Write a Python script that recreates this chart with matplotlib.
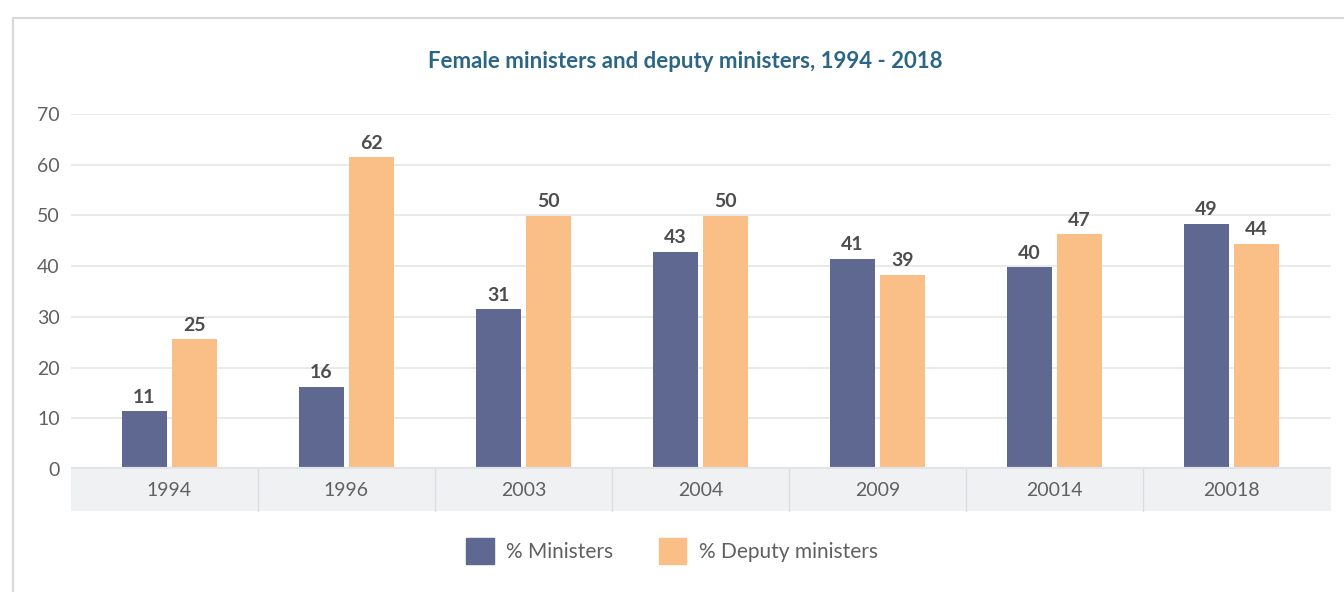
import numpy as np
import matplotlib.pyplot as plt
from matplotlib.patches import Rectangle, Patch
from matplotlib.lines import Line2D

plt.rcParams['font.family'] = ['Lato', 'DejaVu Sans']

years = ['1994', '1996', '2003', '2004', '2009', '20014', '20018']
ministers = [11.4, 16.2, 31.5, 42.8, 41.4, 39.8, 48.3]
deputy = [25.6, 61.5, 49.9, 49.9, 38.3, 46.3, 44.4]
ministers_labels = ['11', '16', '31', '43', '41', '40', '49']
deputy_labels = ['25', '62', '50', '50', '39', '47', '44']

c_min = '#5f6891'
c_dep = '#f9bf87'
txt = '#606060'

fig = plt.figure(figsize=(13.44, 5.92), dpi=100)
ax = fig.add_axes([71 / 1344, 1 - 469 / 592, 1260 / 1344, 355 / 592])

x = np.arange(len(years))
w = 0.254
off = 0.141
b1 = ax.bar(x - off, ministers, w, color=c_min, zorder=3)
b2 = ax.bar(x + off, deputy, w, color=c_dep, zorder=3)

for bars, labels in [(b1, ministers_labels), (b2, deputy_labels)]:
    for b, lab in zip(bars, labels):
        ax.text(b.get_x() + b.get_width() / 2, b.get_height() + 1.1, lab,
                ha='center', va='bottom', fontsize=14, fontweight='bold', color='#4d4d4d')

ax.set_ylim(0, 70)
ax.set_xlim(-0.556, 6.562)
ax.set_yticks(range(0, 71, 10))
ax.tick_params(axis='y', length=0, labelsize=14, labelcolor=txt, pad=8)
ax.set_xticks([])
ax.grid(axis='y', color='#e6e6e6', linewidth=1.2, zorder=0)
for s in ax.spines.values():
    s.set_visible(False)

# category band under the axis
band_h = 42 / 355
ax.add_patch(Rectangle((0, -band_h), 1, band_h, transform=ax.transAxes,
                       facecolor='#f0f1f3', edgecolor='none', clip_on=False, zorder=1))
trans = ax.get_xaxis_transform()
for i in range(len(years) - 1):
    ax.plot([i + 0.5, i + 0.5], [-band_h, 0], transform=trans, color='#dcdde1',
            linewidth=1, clip_on=False, zorder=2)
for i, yr in enumerate(years):
    ax.text(i, -band_h / 2, yr, transform=trans, ha='center', va='center',
            fontsize=14, color=txt)
ax.axhline(0, color='#e2e3e6', linewidth=3, zorder=4)

fig.text(685 / 1344, 1 - 61 / 592, 'Female ministers and deputy ministers, 1994 - 2018',
         ha='center', va='center', fontsize=16, fontweight='bold', color='#2c6687')

handles = [Patch(color=c_min), Patch(color=c_dep)]
fig.legend(handles, ['% Ministers', '% Deputy ministers'], loc='center',
           bbox_to_anchor=(672 / 1344, 1 - 551 / 592), ncol=2, frameon=False,
           fontsize=15, labelcolor=txt, handlelength=1.3, handleheight=1.5,
           columnspacing=2.2, handletextpad=0.6)

# outer frame
fig.add_artist(Line2D([13 / 1344, 1], [1 - 18 / 592, 1 - 18 / 592], color='#d9d9d9', linewidth=1.5))
fig.add_artist(Line2D([13 / 1344, 13 / 1344], [0, 1 - 18 / 592], color='#d9d9d9', linewidth=1.5))

fig.savefig('out.png', dpi=100)
